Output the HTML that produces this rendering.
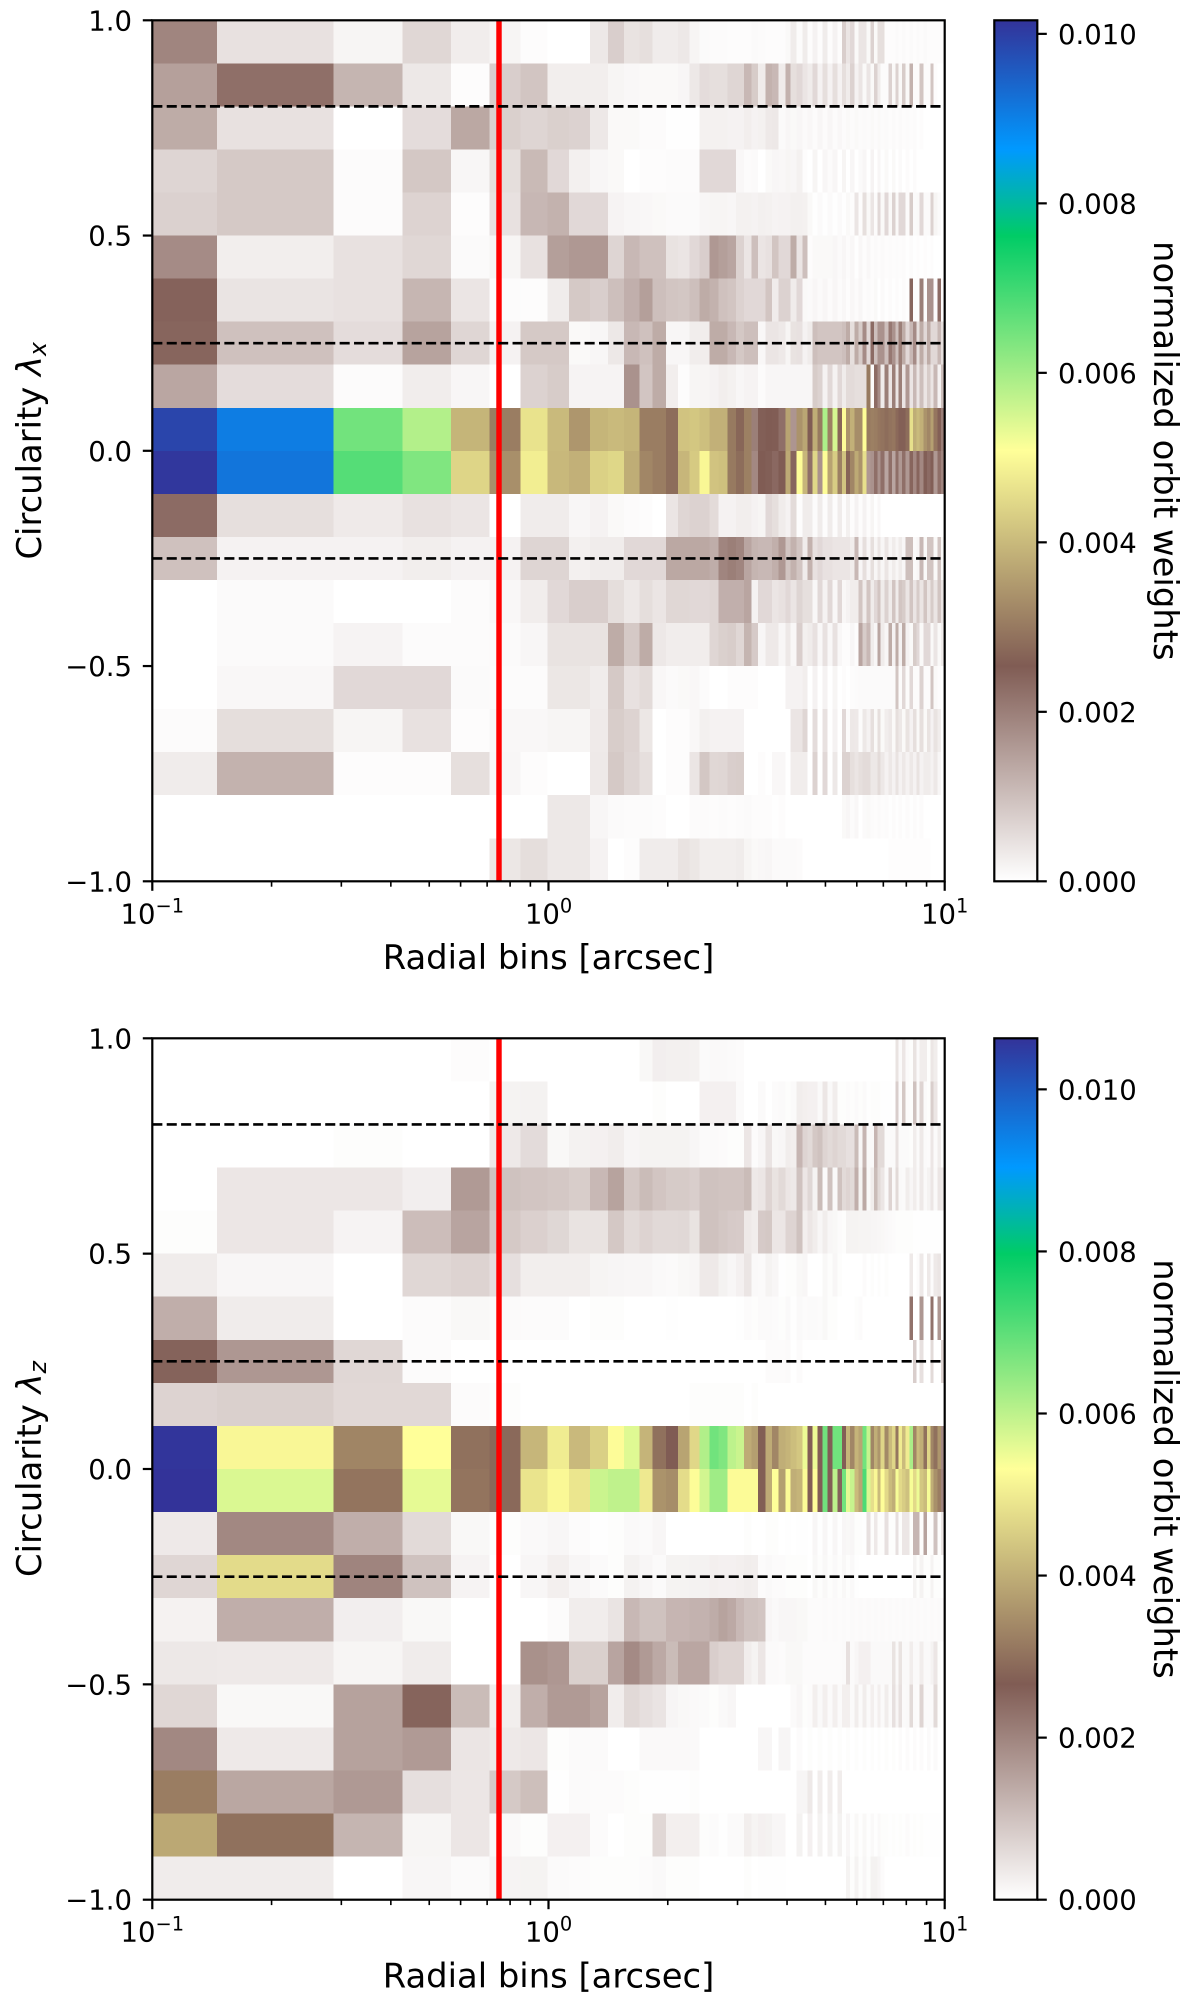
<!DOCTYPE html>
<html lang="en">
<head>
<meta charset="utf-8">
<title>Normalized orbit weights by circularity and radial bin</title>
<style>
html,body{margin:0;padding:0;background:#fff;}
svg{display:block;}
text{font-family:"DejaVu Sans","Liberation Sans",sans-serif;fill:#000;}
</style>
</head>
<body>
<svg id="figure" xmlns="http://www.w3.org/2000/svg" width="1200" height="2001" viewBox="0 0 1200 2001">
<defs>
<linearGradient id="terrain-gradient" x1="0" y1="1" x2="0" y2="0">
<stop offset="0" stop-color="#ffffff"/>
<stop offset="0.25" stop-color="#805c54"/>
<stop offset="0.5" stop-color="#ffff99"/>
<stop offset="0.75" stop-color="#00cc66"/>
<stop offset="0.85" stop-color="#0099ff"/>
<stop offset="1" stop-color="#333399"/>
</linearGradient>
</defs>
<rect width="1200" height="2001" fill="#fff"/>
</svg>
<script>
// Radial bin edges in arcsec
const radialEdges = [0.1,0.1456,0.2863,0.4276,0.5675,0.7105,0.8506,0.993,1.128,1.273,1.413,1.551,1.695,1.832,1.98,2.123,2.266,2.403,2.546,2.688,2.826,2.973,3.115,3.25,3.38,3.525,3.665,3.81,3.96,4.086,4.231,4.382,4.511,4.644,4.781,4.922,5.066,5.216,5.357,5.505,5.634,5.768,5.914,6.053,6.194,6.354,6.504,6.631,6.76,6.895,7.057,7.206,7.362,7.504,7.654,7.802,7.954,8.141,8.318,8.479,8.649,8.851,9.022,9.198,9.38,9.601,9.788,10];
// Circularity bin edges run from +1 to -1 in 20 equal rows
const circularityRange = [1, -1];
const circularityRowCount = 20;
// Orbit weights in units of 1e-5; each row is one circularity bin (top to bottom)
const weightsLambdaX = [
[190,46,16,62,28,16,5,0,0,36,76,44,50,30,30,36,16,8,6,6,4,4,4,8,6,4,4,4,10,30,6,30,5,20,5,30,5,20,5,76,40,60,10,40,40,10,70,10,50,50,4,4,4,8,4,8,4,8,4,8,4,8,4,4,4,4,4],
[148,224,116,36,4,76,90,26,26,26,16,12,10,10,10,14,36,54,50,50,64,64,110,80,30,120,110,30,120,50,60,40,30,60,20,50,20,50,20,50,30,70,20,40,10,40,10,70,30,6,6,70,10,70,10,80,10,120,6,6,90,6,6,90,4,0,0],
[130,46,0,54,136,74,66,74,70,36,10,10,6,6,2,2,2,22,22,22,20,20,26,20,22,34,36,8,14,10,14,8,12,6,14,6,14,6,12,6,10,6,10,6,8,6,10,6,10,6,8,4,8,4,8,4,6,4,6,2,4,0,0,0,0,0,0],
[66,84,6,86,14,52,108,60,24,14,10,0,4,4,6,6,6,60,60,60,60,12,6,8,0,10,14,12,16,14,22,4,0,16,0,14,6,14,0,16,0,14,0,8,14,0,18,0,14,2,10,0,10,0,8,0,6,0,6,0,0,0,0,0,0,0,0],
[72,84,6,68,4,46,112,120,60,60,18,14,12,10,8,8,8,14,16,16,14,22,22,20,24,22,18,20,20,24,24,22,10,2,8,2,8,2,8,2,10,4,40,4,50,10,40,6,60,10,60,10,70,10,60,60,6,80,8,10,60,8,8,70,16,8,0],
[180,26,46,62,8,16,46,150,160,160,66,110,96,96,44,40,60,76,160,150,140,70,40,100,40,46,90,60,60,130,40,100,4,10,10,10,10,14,8,14,6,12,2,12,4,12,4,8,4,8,4,6,4,6,4,6,2,6,2,4,2,4,2,4,0,0,0],
[244,42,46,114,40,6,4,30,84,76,100,124,150,100,90,88,100,130,120,96,90,70,60,60,60,90,30,70,70,30,60,10,8,14,8,14,6,14,6,12,4,12,6,14,4,8,4,10,0,8,2,6,2,6,2,6,2,240,4,4,200,4,170,170,6,230,6],
[240,96,54,144,64,20,84,84,10,14,36,110,96,130,14,14,28,28,130,130,110,86,100,100,12,40,40,34,16,44,46,20,30,100,90,90,90,90,90,100,130,50,130,80,180,60,230,100,170,170,100,210,170,100,200,130,60,110,180,50,130,60,130,60,60,110,50],
[138,54,6,28,14,0,70,80,18,18,18,170,90,130,26,4,16,16,20,26,22,14,18,18,6,14,14,14,14,14,14,14,14,80,70,20,60,20,60,30,56,56,50,50,50,300,8,230,180,30,200,40,200,40,200,40,160,40,110,40,100,40,80,40,110,20,100],
[989,905,648,584,392,305,464,400,345,392,400,392,305,305,280,415,420,408,385,385,300,270,310,200,250,254,252,225,366,165,340,370,254,380,300,590,310,550,270,505,340,385,330,330,505,300,310,305,295,290,280,290,295,275,260,260,280,460,380,400,385,340,320,360,295,260,200],
[1010,917,677,635,442,334,482,398,385,436,445,380,320,305,280,395,425,495,415,410,300,280,310,185,254,250,235,254,375,240,505,395,225,445,170,505,365,430,310,415,265,320,375,340,460,160,170,225,170,225,140,225,140,225,160,225,160,240,185,240,185,250,230,250,160,225,190],
[230,50,32,46,40,0,30,30,14,20,10,6,4,0,40,64,70,70,56,20,20,26,26,20,16,60,50,30,20,56,4,30,30,6,30,4,30,4,30,4,24,4,20,4,20,4,16,2,12,0,0,0,0,0,0,0,0,0,0,0,0,0,0,0,0,0,0],
[96,20,20,26,20,20,66,66,24,30,30,60,60,60,136,136,136,136,128,190,200,190,140,116,110,110,125,160,90,120,90,30,120,46,60,46,46,40,40,40,40,28,110,14,50,14,50,14,40,14,40,14,30,14,30,14,100,100,8,14,110,10,90,90,10,90,10],
[0,8,0,0,6,12,28,60,76,76,52,36,52,40,62,62,60,60,64,124,124,124,140,20,60,60,40,46,60,40,66,50,50,12,60,20,60,12,60,12,20,28,28,90,30,90,30,60,90,30,70,30,90,30,90,80,40,90,40,80,40,90,40,80,40,90,40],
[0,8,18,6,6,8,14,44,44,44,130,84,130,36,28,28,28,28,64,74,78,62,116,82,14,34,34,14,36,12,76,24,30,46,12,46,12,46,12,4,4,14,4,140,80,110,30,14,140,30,14,130,20,130,20,130,20,10,80,60,10,60,60,10,40,10,30],
[0,12,60,60,8,6,6,38,38,30,84,46,56,12,8,10,12,6,0,0,4,4,4,4,0,0,0,0,20,20,20,26,0,20,0,20,0,16,0,4,0,4,6,8,8,8,8,8,8,8,8,8,8,90,6,60,6,60,6,6,70,6,6,90,10,4,0],
[6,52,16,46,4,12,12,16,16,32,78,68,38,0,4,4,12,24,20,20,20,20,0,0,0,0,0,0,0,40,40,64,0,54,0,46,0,20,0,60,6,36,34,6,36,20,50,10,50,10,28,36,10,50,36,10,44,20,50,10,50,10,44,20,44,28,0],
[30,120,4,4,50,14,4,0,0,34,84,66,50,0,4,4,40,88,62,64,76,78,0,0,4,0,12,12,0,28,28,28,0,70,0,60,0,36,0,70,70,50,40,50,56,56,36,36,56,36,20,36,20,44,20,36,20,36,20,44,20,30,30,20,36,14,0],
[0,0,0,0,0,0,0,36,36,14,8,6,6,4,0,0,6,6,4,6,4,6,8,4,4,4,2,4,0,0,0,0,0,0,0,0,0,0,0,10,14,6,12,0,8,10,6,4,8,4,6,2,6,2,6,2,6,2,6,2,6,0,0,0,0,0,0],
[0,0,0,0,0,38,52,36,36,20,0,4,30,30,30,44,38,26,26,26,26,30,16,10,12,14,8,8,8,8,6,0,0,0,0,0,0,0,0,0,0,0,0,0,0,0,0,0,0,0,0,3,3,3,3,3,3,3,3,3,3,3,3,0,0,0,0]
];
const weightsLambdaZ = [
[0,0,0,0,5,0,0,0,0,0,0,0,12,27,25,25,23,8,10,10,8,6,0,0,0,0,0,0,0,0,0,0,0,0,0,0,0,0,0,0,0,0,0,0,0,0,0,0,0,0,0,0,0,46,8,40,8,4,46,8,30,30,4,40,30,0,0],
[0,0,0,0,0,20,22,0,0,0,0,0,0,4,0,0,0,24,24,24,24,8,0,0,8,0,6,8,4,8,30,26,24,24,10,40,10,30,4,4,6,4,8,4,8,2,4,4,4,2,2,2,0,80,6,90,6,4,100,8,70,8,4,80,40,0,0],
[0,0,4,0,0,36,58,12,22,24,30,16,20,20,20,20,14,8,8,6,4,4,40,6,14,44,12,14,30,26,120,70,60,90,100,70,60,70,60,60,50,50,110,14,120,10,10,120,60,60,8,8,8,50,8,8,8,4,30,8,36,8,6,40,8,30,4],
[0,40,40,27,165,100,95,90,82,115,150,90,110,95,85,85,80,100,100,96,96,96,110,36,40,70,46,60,40,36,100,40,66,20,110,8,100,10,100,60,70,60,130,20,140,10,30,110,60,40,10,70,10,60,10,8,30,14,30,10,36,10,20,40,10,40,36],
[4,40,19,107,148,88,76,66,46,46,90,60,72,62,62,64,46,100,100,92,86,84,36,30,86,90,40,40,70,70,100,26,40,30,14,30,14,12,6,4,20,20,20,18,18,18,16,16,14,12,10,8,6,4,4,4,4,4,2,2,2,2,2,2,2,2,2],
[31,14,0,65,71,52,28,28,28,18,16,14,14,10,8,12,14,36,36,22,14,24,42,10,8,20,14,2,4,4,12,14,0,0,0,12,4,14,4,0,0,0,0,0,6,0,4,0,4,0,4,0,0,0,0,0,0,36,0,6,36,0,36,6,36,42,0],
[132,31,0,6,12,8,6,6,0,4,4,0,0,0,2,0,0,0,0,0,0,2,6,4,8,8,6,4,10,2,10,6,8,8,6,12,4,4,0,0,0,0,4,6,0,0,0,0,0,0,0,0,0,0,0,0,0,230,0,0,170,0,0,230,0,170,0],
[255,170,65,6,0,0,0,0,0,0,0,0,0,0,0,0,0,0,0,0,0,0,0,0,0,6,6,6,8,0,6,0,0,0,0,0,0,0,0,0,0,0,0,0,0,0,0,0,0,0,0,0,0,0,0,0,0,0,80,0,50,0,0,60,0,0,70],
[71,77,63,63,6,4,0,0,0,0,0,0,0,0,0,0,4,4,4,4,4,4,0,4,0,0,0,0,0,0,0,0,0,0,0,0,0,0,0,0,0,0,0,0,0,0,0,0,0,0,0,0,0,0,0,0,0,0,0,0,0,0,0,0,0,0,0],
[1060,519,333,531,300,287,412,500,418,455,527,565,410,300,266,383,466,613,680,664,600,587,395,375,270,395,335,400,410,425,440,550,262,550,262,680,262,680,680,262,410,335,410,385,680,590,335,400,360,465,340,420,465,310,500,420,500,620,335,420,400,300,465,335,300,360,190],
[1063,570,305,558,305,287,487,520,490,587,598,598,495,355,345,475,528,578,632,632,525,525,525,525,270,395,530,375,525,400,410,525,262,530,262,680,262,600,255,680,560,590,420,385,720,570,480,520,420,530,470,420,400,540,470,450,430,540,470,550,440,420,540,400,350,320,200],
[36,194,132,60,12,4,10,14,6,2,4,10,8,14,0,0,0,0,0,0,0,0,4,0,0,4,4,0,2,0,2,2,0,14,2,14,2,14,2,14,12,14,4,4,2,50,4,36,4,4,50,4,4,50,4,40,40,4,120,120,4,150,4,4,100,4,40],
[67,473,200,100,19,0,14,26,14,8,4,22,14,8,20,20,22,22,26,24,24,26,30,28,6,10,6,6,4,4,4,4,0,12,4,12,4,10,4,12,4,10,2,0,0,0,0,0,0,0,0,0,0,0,0,0,0,0,20,4,20,4,4,20,4,4,0],
[21,132,27,12,0,0,0,6,30,30,44,115,100,100,120,120,125,125,135,150,140,115,100,100,95,14,10,14,14,14,12,12,6,6,6,8,6,8,6,8,6,8,6,8,6,8,6,8,6,8,6,8,6,8,6,8,6,8,6,8,6,8,6,8,6,8,6],
[38,36,17,31,0,0,180,170,77,77,148,190,165,140,110,145,145,145,80,70,70,70,30,20,40,8,8,6,12,12,12,6,6,6,6,6,6,6,6,8,50,8,14,24,24,24,10,10,10,10,10,10,46,10,46,10,10,30,10,10,30,10,10,20,40,4,0],
[65,12,152,253,110,28,132,165,165,150,30,62,52,44,16,12,10,8,4,10,14,0,0,0,0,0,0,0,0,8,14,4,6,26,10,26,8,26,8,26,26,8,30,8,30,8,26,8,26,8,30,8,50,14,50,8,10,60,8,6,70,8,8,8,60,4,0],
[194,36,152,165,42,36,40,4,8,8,0,0,10,10,10,10,10,0,0,0,0,0,0,0,14,14,0,16,16,0,6,0,4,0,4,0,4,0,4,0,4,0,4,0,4,0,4,0,4,0,4,0,4,0,6,0,6,0,6,0,6,0,8,0,8,0,0],
[320,144,167,52,40,88,105,2,8,6,6,4,2,2,2,2,4,0,0,0,0,0,0,0,0,0,0,0,0,0,16,16,36,0,30,0,30,0,30,0,0,0,0,0,0,0,0,0,0,0,0,0,0,0,0,0,0,0,0,0,0,0,0,0,0,0,0],
[390,300,121,17,40,10,4,24,24,6,0,4,4,65,26,26,26,4,6,2,8,8,28,18,24,22,14,14,0,0,22,0,24,0,22,0,22,2,22,2,14,2,12,2,12,2,10,2,10,4,4,2,4,2,4,2,6,2,4,2,4,2,2,2,2,2,0],
[31,31,0,14,8,19,20,8,6,4,4,4,6,10,4,4,4,0,0,0,0,0,4,0,2,2,2,2,0,0,0,0,0,0,0,0,0,0,0,0,20,4,20,4,14,4,22,22,16,6,0,0,0,0,0,0,0,0,0,0,0,0,0,0,0,0,0]
];
const weightUnit = 1e-5;
const vmaxLambdaX = 0.01016;
const vmaxLambdaZ = 0.01063;
const yTickValues = [1, 0.5, 0, -0.5, -1];
const yTickLabels = ["1.0", "0.5", "0.0", "\u22120.5", "\u22121.0"];
const xMajorTicks = [0.1, 1, 10];
const xMajorExponents = ["\u22121", "0", "1"];
const xMinorTicks = [0.2,0.3,0.4,0.5,0.6,0.7,0.8,0.9,2,3,4,5,6,7,8,9];
const colorbarTickValues = [0, 0.002, 0.004, 0.006, 0.008, 0.01];
const colorbarTickLabels = ["0.000", "0.002", "0.004", "0.006", "0.008", "0.010"];
const circularityCuts = [0.8, 0.25, -0.25];
const radialCut = 0.75;
const terrainStops = [0, 0.25, 0.5, 0.75, 0.85, 1];
const terrainColors = [[255,255,255],[128,92,84],[255,255,153],[0,204,102],[0,153,255],[51,51,153]];

const NS = "http://www.w3.org/2000/svg";
const figure = document.getElementById("figure");
const LEFT = 152.3, RIGHT = 944.7, CB_LEFT = 994.3, CB_RIGHT = 1037.3;
const LOG_MIN = -1, LOG_MAX = 1;
const TICK_FONT = 27.5, TITLE_FONT = 33.8;

function xScale(r){ return LEFT + (Math.log10(r) - LOG_MIN) / (LOG_MAX - LOG_MIN) * (RIGHT - LEFT); }
function yScaleFor(top, bottom){
  return function(v){ return top + (circularityRange[0] - v) / (circularityRange[0] - circularityRange[1]) * (bottom - top); };
}
function terrainR(f){
  const t = Math.max(0, Math.min(1, f));
  let i = 0;
  while (i < terrainStops.length - 2 && t > terrainStops[i + 1]) i++;
  const u = (t - terrainStops[i]) / (terrainStops[i + 1] - terrainStops[i]);
  const a = terrainColors[i], b = terrainColors[i + 1];
  return "rgb(" + Math.round(a[0] + (b[0] - a[0]) * u) + "," + Math.round(a[1] + (b[1] - a[1]) * u) + "," + Math.round(a[2] + (b[2] - a[2]) * u) + ")";
}
function make(parent, tag, attrs, text){
  const el = document.createElementNS(NS, tag);
  for (const k in attrs) el.setAttribute(k, attrs[k]);
  if (text !== undefined) el.textContent = text;
  parent.appendChild(el);
  return el;
}

function drawPanel(key, top, bottom, weights, vmax, subscript){
  const y = yScaleFor(top, bottom);
  const group = make(figure, "g", {});
  
  

  // heatmap
  const mesh = make(group, "g", {"shape-rendering": "crispEdges"});
  
  
  const rowStep = (circularityRange[0] - circularityRange[1]) / circularityRowCount;
  weights.forEach(function(row, ri){
    const y0 = y(circularityRange[0] - ri * rowStep);
    const y1 = y(circularityRange[0] - (ri + 1) * rowStep);
    for (let ci = 0; ci < radialEdges.length - 1; ci++){
      const value = (row[ci] || 0) * weightUnit;
      const x0 = xScale(radialEdges[ci]), x1 = xScale(radialEdges[ci + 1]);
      const cell = make(mesh, "rect", {x: x0, y: y0, width: x1 - x0, height: y1 - y0, fill: terrainR(value / vmax)});
      
      
    }
  });

  // red radial marker
  const red = make(group, "line", {x1: xScale(radialCut), x2: xScale(radialCut), y1: top, y2: bottom, stroke: "#ff0000", "stroke-width": 5.44});
  
  

  // dashed circularity cuts
  circularityCuts.forEach(function(c){
    const dash = make(group, "line", {x1: LEFT, x2: RIGHT, y1: y(c), y2: y(c), stroke: "#000", "stroke-width": 2.72, "stroke-dasharray": "10.06 4.35"});
    
    
  });

  // frame
  const frame = make(group, "rect", {x: LEFT, y: top, width: RIGHT - LEFT, height: bottom - top, fill: "none", stroke: "#000", "stroke-width": 2.2});
  
  

  // y ticks
  yTickValues.forEach(function(v, i){
    const tick = make(group, "line", {x1: LEFT - 9.5, x2: LEFT, y1: y(v), y2: y(v), stroke: "#000", "stroke-width": 2.2});
    
    
    const label = make(group, "text", {x: 132, y: y(v) + 10, "text-anchor": "end", "font-size": TICK_FONT}, yTickLabels[i]);
    
    
  });

  // x ticks
  xMinorTicks.forEach(function(v){
    const tick = make(group, "line", {x1: xScale(v), x2: xScale(v), y1: bottom, y2: bottom + 5.4, stroke: "#000", "stroke-width": 1.6});
    
    
  });
  xMajorTicks.forEach(function(v, i){
    const tick = make(group, "line", {x1: xScale(v), x2: xScale(v), y1: bottom, y2: bottom + 9.5, stroke: "#000", "stroke-width": 2.2});
    
    
    const label = make(group, "text", {x: xScale(v), y: bottom + 42, "text-anchor": "middle", "font-size": TICK_FONT}, "10");
    
    
    const sup = make(label, "tspan", {dy: -11, "font-size": 19.4}, xMajorExponents[i]);
    
    
  });

  // axis titles
  const xTitle = make(group, "text", {x: (LEFT + RIGHT) / 2, y: bottom + 87.6, "text-anchor": "middle", "font-size": TITLE_FONT}, "Radial bins [arcsec]");
  
  

  const midY = (top + bottom) / 2;
  const yTitle = make(group, "text", {x: 0, y: 0, "text-anchor": "middle", "font-size": TITLE_FONT, transform: "translate(41," + midY + ") rotate(-90)"}, "Circularity ");
  
  
  make(yTitle, "tspan", {"font-style": "italic"}, "\u03bb");
  make(yTitle, "tspan", {"font-style": "italic", "font-size": 23.6, dy: 5}, subscript);

  // colorbar
  const cbar = make(group, "rect", {x: CB_LEFT, y: top, width: CB_RIGHT - CB_LEFT, height: bottom - top, fill: "url(#terrain-gradient)", stroke: "#000", "stroke-width": 2.2});
  
  
  colorbarTickValues.forEach(function(v, i){
    const cy = bottom - (v / vmax) * (bottom - top);
    const tick = make(group, "line", {x1: CB_RIGHT, x2: CB_RIGHT + 9.5, y1: cy, y2: cy, stroke: "#000", "stroke-width": 2.2});
    
    
    const label = make(group, "text", {x: 1058, y: cy + 10, "font-size": TICK_FONT}, colorbarTickLabels[i]);
    
    
  });
  const cbTitle = make(group, "text", {x: 0, y: 0, "text-anchor": "middle", "font-size": TITLE_FONT, transform: "translate(1154," + midY + ") rotate(90)"}, "normalized orbit weights");
  
  
}

drawPanel("lambda-x", 20.3, 881.3, weightsLambdaX, vmaxLambdaX, "x");
drawPanel("lambda-z", 1038.3, 1899.7, weightsLambdaZ, vmaxLambdaZ, "z");
</script>
</body>
</html>
